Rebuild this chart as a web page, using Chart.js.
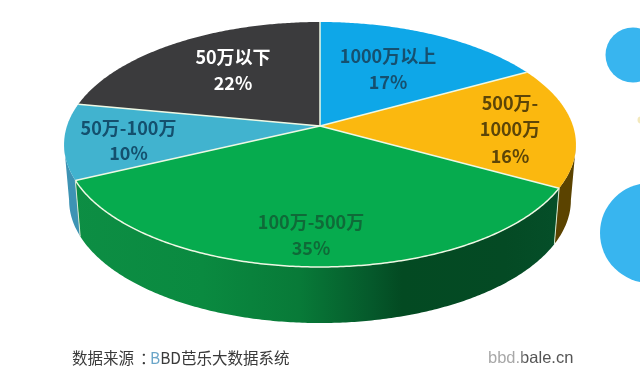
<!DOCTYPE html>
<html><head><meta charset="utf-8">
<style>html,body{margin:0;padding:0;background:#fff}#w{position:relative;width:640px;height:379px;overflow:hidden}canvas{display:block}</style>
<script src="https://cdn.jsdelivr.net/npm/chart.js@4/dist/chart.umd.min.js"></script>
</head><body><div id="w"><canvas id="c" width="640" height="379"></canvas></div>
<script>
const categories = ["1000万以上","500万-1000万","100万-500万","50万-100万","50万以下"];
const shares = [17,16,35,10,22];
const labelLines = [["1000万以上","17%"],["500万-","1000万","16%"],["100万-500万","35%"],["50万-100万","10%"],["50万以下","22%"]];
const sourceNote = "数据来源";
const sourceColon = "：";
const sourceName = "BBD芭乐大数据系统";
const siteNote = "bbd.bale.cn";

const faceColors = ["#0ea7e8","#fbb80f","#06ab4e","#41b3cf","#3b3b3d"];
const textColors = ["#16506f","#5c4508","#0f6a38","#14506e","#ffffff"];
const labelPos = [[388,56,26],[510,103,26.5],[311,222,26],[128.5,128,25.5],[233,57,26]];
const topRim = {cx:320,cy:126,R:253,H:119.7,k:0.151};
const botRim = {cx:320,cy:181.7,R:248,H:120,k:0.151};

function project(p,a){ // a: Chart.js arc angle (0 = +x, clockwise)
  const u=Math.cos(a), v=Math.sin(a), d=1-p.k*v;
  return [p.cx+p.R*u/d, p.cy+p.H*v/d];
}
function arcPath(ctx,p,a0,a1,first){
  const n=Math.max(2,Math.ceil(Math.abs(a1-a0)/0.01));
  for(let i=0;i<=n;i++){
    const q=project(p,a0+(a1-a0)*i/n);
    if(i===0&&first) ctx.moveTo(q[0],q[1]); else ctx.lineTo(q[0],q[1]);
  }
}
function wallFill(ctx,idx){
  const g=ctx.createLinearGradient(64,0,576,0);
  if(idx===2){
    [[0,"#0d8e44"],[0.27,"#0a8a40"],[0.46,"#087a38"],[0.6,"#05592b"],[0.66,"#034a22"],[0.86,"#044a24"],[1,"#05502a"]].forEach(s=>g.addColorStop(s[0],s[1]));
    return g;
  }
  if(idx===1) return "#5b4300";
  if(idx===3) return "#3d93b4";
  return faceColors[idx];
}
const pie3d={
  id:'pie3d',
  beforeDatasetDraw(chart){
    const ctx=chart.ctx, arcs=chart.getDatasetMeta(0).data;
    const tangent=Math.asin(topRim.k); // silhouette of the drum
    ctx.save();
    // decorative discs
    ctx.fillStyle="#38b5ef";
    ctx.beginPath();ctx.arc(633,55,27.5,0,Math.PI*2);ctx.fill();
    ctx.beginPath();ctx.arc(650,233,50,0,Math.PI*2);ctx.fill();
    ctx.fillStyle="#f3e9bd";
    ctx.beginPath();ctx.arc(641,120,3.5,0,Math.PI*2);ctx.fill();
    // side walls: only the front part, between the two silhouette tangents
    arcs.forEach((el,i)=>{
      if(i===0||i===4) return;
      let {startAngle:a0,endAngle:a1}=el.getProps(['startAngle','endAngle'],true);
      a0=Math.max(a0,tangent);
      a1=Math.min(a1,Math.PI-tangent);
      ctx.beginPath();arcPath(ctx,topRim,a0,a1,true);arcPath(ctx,botRim,a1,a0,false);ctx.closePath();
      ctx.fillStyle=wallFill(ctx,i);ctx.fill();
    });
    // top face
    arcs.forEach((el,i)=>{
      const {startAngle:a0,endAngle:a1}=el.getProps(['startAngle','endAngle'],true);
      ctx.beginPath();ctx.moveTo(topRim.cx,topRim.cy);arcPath(ctx,topRim,a0,a1,false);ctx.closePath();
      ctx.fillStyle=faceColors[i];ctx.fill();
    });
    // separators
    ctx.strokeStyle="#eef8e4";ctx.lineWidth=1.5;
    arcs.forEach((el,i)=>{
      const {startAngle:a0,endAngle:a1}=el.getProps(['startAngle','endAngle'],true);
      ctx.beginPath();ctx.moveTo(topRim.cx,topRim.cy);const q=project(topRim,a0);ctx.lineTo(q[0],q[1]);ctx.stroke();
      if(i===2){ctx.beginPath();arcPath(ctx,topRim,a0,a1,true);ctx.stroke();}
    });
    // corner edges on wall
    [arcs[2].startAngle,arcs[2].endAngle].forEach(a=>{
      const p=project(topRim,a),q=project(botRim,a);
      ctx.beginPath();ctx.moveTo(p[0],p[1]);ctx.lineTo(q[0],q[1]);ctx.strokeStyle="#d5e8cf";ctx.lineWidth=1;ctx.stroke();
    });
    // labels
    ctx.textAlign="center";ctx.textBaseline="middle";
    labelLines.forEach((lines,i)=>{
      const [x,y,lh]=labelPos[i];
      ctx.fillStyle=textColors[i];
      ctx.font="bold 18px 'Noto Sans CJK SC'";
      lines.forEach((t,j)=>ctx.fillText(t,x,y+j*lh));
    });
    // footer
    ctx.textAlign="left";
    ctx.font="15.5px 'Noto Sans CJK SC'";
    ctx.fillStyle="#3a3a3a";
    ctx.fillText(sourceNote,72,358);
    ctx.fillText(sourceColon,140,358);
    const nameFill=ctx.createLinearGradient(150,0,162,0);
    nameFill.addColorStop(0,"#6aa5c8");nameFill.addColorStop(0.8,"#6aa5c8");nameFill.addColorStop(1,"#3a3a3a");
    ctx.fillStyle=nameFill;
    ctx.fillText(sourceName,150,358);
    ctx.font="16.5px 'Liberation Sans'";
    const siteFill=ctx.createLinearGradient(488,0,526,0);
    siteFill.addColorStop(0,"#a8a8a8");siteFill.addColorStop(0.8,"#a8a8a8");siteFill.addColorStop(1,"#555555");
    ctx.fillStyle=siteFill;
    ctx.fillText(siteNote,488,358);
    ctx.restore();
    return false;
  }
};
new Chart(document.getElementById('c'),{
  type:'pie',
  data:{labels:categories,datasets:[{data:shares,backgroundColor:faceColors,borderWidth:0}]},
  options:{responsive:false,animation:false,rotation:0,
    plugins:{legend:{display:false},tooltip:{enabled:false},title:{display:false}}},
  plugins:[pie3d]
});
</script></body></html>
